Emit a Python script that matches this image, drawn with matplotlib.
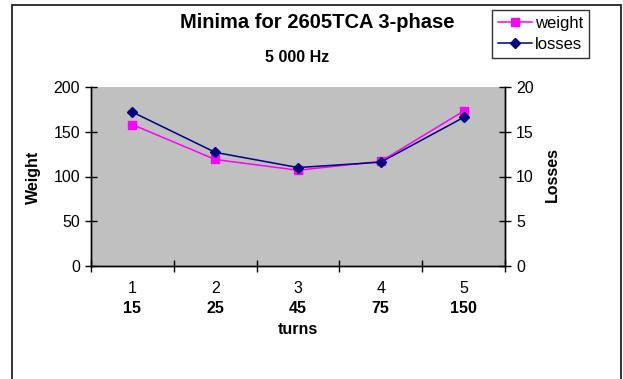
import matplotlib
matplotlib.use("Agg")
import matplotlib.pyplot as plt
from matplotlib.patches import Rectangle

plt.rcParams["font.family"] = ["Liberation Sans", "DejaVu Sans"]

categories = [1, 2, 3, 4, 5]
turns = ["15", "25", "45", "75", "150"]
weight = [158, 119, 107, 117, 173]
losses = [17.2, 12.7, 11.0, 11.6, 16.6]

W, H = 623, 379
fig = plt.figure(figsize=(W / 100, H / 100), dpi=100)

# outer chart frame (bottom edge falls outside the picture)
fig.patches.append(Rectangle((12 / W, -0.05), (621 - 12) / W, 1.05 - 5 / H,
                             transform=fig.transFigure, fill=False,
                             edgecolor="#222222", lw=1.3))

ax = fig.add_axes([91 / W, 1 - 266 / H, (505 - 91) / W, (266 - 87) / H])
ax.set_facecolor("#C0C0C0")
ax2 = ax.twinx()

l1, = ax.plot(categories, weight, color="#FF00FF", marker="s", markersize=6,
              lw=1.1, label="weight")
l2, = ax2.plot(categories, losses, color="#000080", marker="D", markersize=5,
               lw=1.1, label="losses")

ax.set_xlim(0.5, 5.5)
ax.set_ylim(0, 200)
ax2.set_ylim(0, 20)
ax.set_yticks([0, 50, 100, 150, 200])
ax2.set_yticks([0, 5, 10, 15, 20])
ax.set_xticks([0.5, 1.5, 2.5, 3.5, 4.5, 5.5])
ax.set_xticklabels([])

for a in (ax, ax2):
    a.spines["top"].set_visible(False)
    for s in a.spines.values():
        s.set_linewidth(1.0)
    a.tick_params(direction="inout", length=8, width=1.0, labelsize=11.5, pad=4)

tr = ax.get_xaxis_transform()
for c, t in zip(categories, turns):
    ax.text(c, -0.128, str(c), transform=tr, ha="center", va="center", fontsize=11.5)
    ax.text(c, -0.235, t, transform=tr, ha="center", va="center", fontsize=11.5,
            fontweight="bold")
ax.text(3, -0.357, "turns", transform=tr, ha="center", va="center", fontsize=11.5,
        fontweight="bold")

fig.text(317 / W, 1 - 23 / H, "Minima for 2605TCA 3-phase", ha="center",
         va="center", fontsize=14.5, fontweight="bold")
fig.text(297 / W, 1 - 57 / H, "5 000 Hz", ha="center", va="center",
         fontsize=11.5, fontweight="bold")
fig.text(33 / W, 1 - 177 / H, "Weight", rotation=90, ha="center", va="center",
         fontsize=11.5, fontweight="bold")
fig.text(552 / W, 1 - 175 / H, "Losses", rotation=90, ha="center", va="center",
         fontsize=11.5, fontweight="bold")

leg = fig.legend([l1, l2], ["weight", "losses"], loc="upper right",
                 bbox_to_anchor=(589 / W, 1 - 10 / H), borderaxespad=0,
                 fontsize=12, frameon=True, fancybox=False, handlelength=2.0,
                 handletextpad=0.2, borderpad=0.35, labelspacing=0.38)
leg.get_frame().set_edgecolor("black")
leg.get_frame().set_linewidth(1.0)

fig.savefig("out.png", dpi=100)
